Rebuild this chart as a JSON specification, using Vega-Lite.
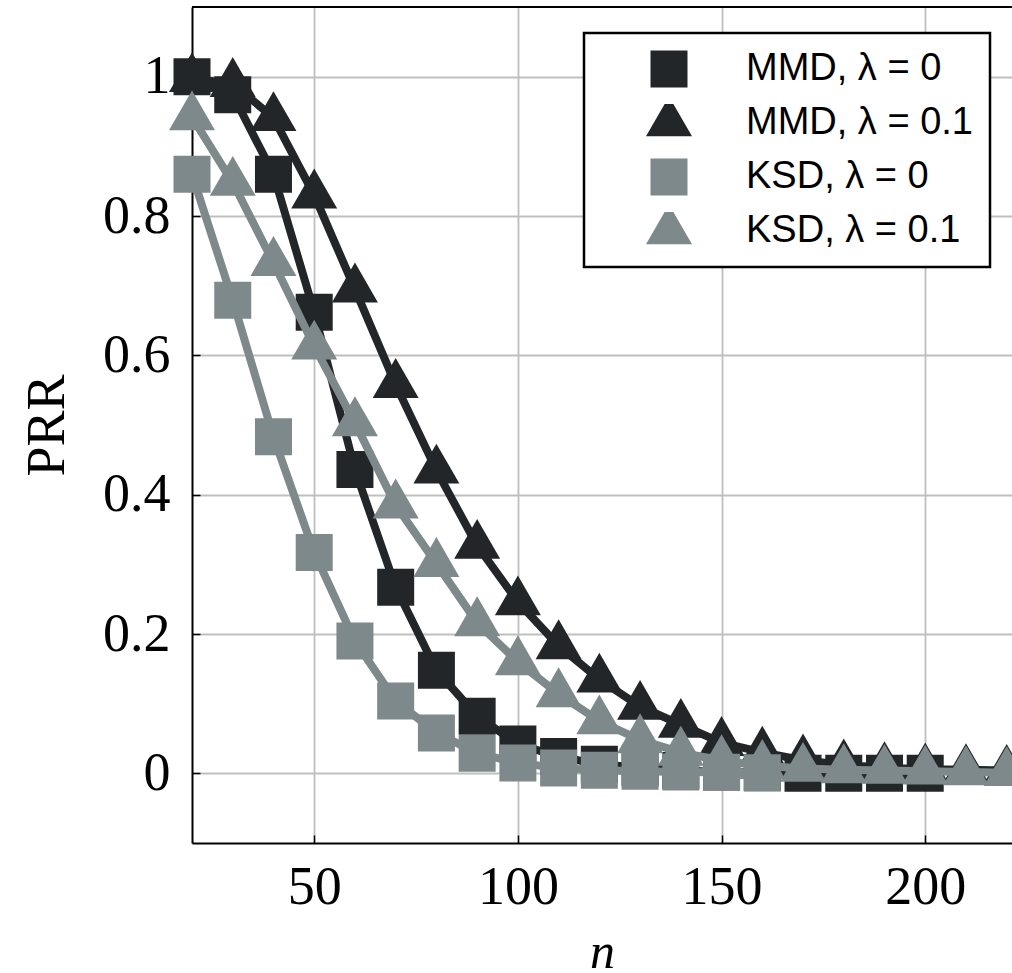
{
  "$schema": "https://vega.github.io/schema/vega-lite/v6.json",
  "width": 820,
  "height": 836,
  "autosize": {"type": "none"},
  "padding": {"left": 192, "top": 7, "right": 0, "bottom": 130},
  "background": "white",
  "config": {
    "view": {"stroke": null},
    "legend": {
      "strokeColor": "black",
      "fillColor": "white",
      "cornerRadius": 0
    },
    "axis": {
      "labelFont": "Liberation Serif",
      "labelFontSize": 54,
      "labelColor": "black",
      "titleFont": "Liberation Serif",
      "titleFontWeight": "normal",
      "titleColor": "black",
      "gridColor": "#bfbfbf",
      "gridWidth": 1.8,
      "domainColor": "black",
      "domainWidth": 2,
      "tickColor": "black",
      "tickWidth": 1.5,
      "tickSize": -8
    }
  },
  "layer": [
    {
      "data": {"values": [
        {"series": "MMD, λ = 0", "n": 20, "PRR": 1.0},
        {"series": "MMD, λ = 0", "n": 30, "PRR": 0.974},
        {"series": "MMD, λ = 0", "n": 40, "PRR": 0.86},
        {"series": "MMD, λ = 0", "n": 50, "PRR": 0.662},
        {"series": "MMD, λ = 0", "n": 60, "PRR": 0.436},
        {"series": "MMD, λ = 0", "n": 70, "PRR": 0.267},
        {"series": "MMD, λ = 0", "n": 80, "PRR": 0.148},
        {"series": "MMD, λ = 0", "n": 90, "PRR": 0.082},
        {"series": "MMD, λ = 0", "n": 100, "PRR": 0.042},
        {"series": "MMD, λ = 0", "n": 110, "PRR": 0.024},
        {"series": "MMD, λ = 0", "n": 120, "PRR": 0.013},
        {"series": "MMD, λ = 0", "n": 130, "PRR": 0.008},
        {"series": "MMD, λ = 0", "n": 140, "PRR": 0.004},
        {"series": "MMD, λ = 0", "n": 150, "PRR": 0.002},
        {"series": "MMD, λ = 0", "n": 160, "PRR": 0.001},
        {"series": "MMD, λ = 0", "n": 170, "PRR": 0.0},
        {"series": "MMD, λ = 0", "n": 180, "PRR": 0.0},
        {"series": "MMD, λ = 0", "n": 190, "PRR": 0.0},
        {"series": "MMD, λ = 0", "n": 200, "PRR": 0.0},
        {"series": "MMD, λ = 0.1", "n": 20, "PRR": 0.997},
        {"series": "MMD, λ = 0.1", "n": 30, "PRR": 0.99},
        {"series": "MMD, λ = 0.1", "n": 40, "PRR": 0.941},
        {"series": "MMD, λ = 0.1", "n": 50, "PRR": 0.83},
        {"series": "MMD, λ = 0.1", "n": 60, "PRR": 0.695},
        {"series": "MMD, λ = 0.1", "n": 70, "PRR": 0.558},
        {"series": "MMD, λ = 0.1", "n": 80, "PRR": 0.435},
        {"series": "MMD, λ = 0.1", "n": 90, "PRR": 0.327},
        {"series": "MMD, λ = 0.1", "n": 100, "PRR": 0.246},
        {"series": "MMD, λ = 0.1", "n": 110, "PRR": 0.183},
        {"series": "MMD, λ = 0.1", "n": 120, "PRR": 0.135},
        {"series": "MMD, λ = 0.1", "n": 130, "PRR": 0.096},
        {"series": "MMD, λ = 0.1", "n": 140, "PRR": 0.07},
        {"series": "MMD, λ = 0.1", "n": 150, "PRR": 0.044},
        {"series": "MMD, λ = 0.1", "n": 160, "PRR": 0.03},
        {"series": "MMD, λ = 0.1", "n": 170, "PRR": 0.019},
        {"series": "MMD, λ = 0.1", "n": 180, "PRR": 0.012},
        {"series": "MMD, λ = 0.1", "n": 190, "PRR": 0.008},
        {"series": "MMD, λ = 0.1", "n": 200, "PRR": 0.006},
        {"series": "MMD, λ = 0.1", "n": 210, "PRR": 0.005},
        {"series": "MMD, λ = 0.1", "n": 220, "PRR": 0.004},
        {"series": "KSD, λ = 0", "n": 20, "PRR": 0.86},
        {"series": "KSD, λ = 0", "n": 30, "PRR": 0.679},
        {"series": "KSD, λ = 0", "n": 40, "PRR": 0.483},
        {"series": "KSD, λ = 0", "n": 50, "PRR": 0.317},
        {"series": "KSD, λ = 0", "n": 60, "PRR": 0.19},
        {"series": "KSD, λ = 0", "n": 70, "PRR": 0.104},
        {"series": "KSD, λ = 0", "n": 80, "PRR": 0.058},
        {"series": "KSD, λ = 0", "n": 90, "PRR": 0.029},
        {"series": "KSD, λ = 0", "n": 100, "PRR": 0.015},
        {"series": "KSD, λ = 0", "n": 110, "PRR": 0.0075},
        {"series": "KSD, λ = 0", "n": 120, "PRR": 0.0045},
        {"series": "KSD, λ = 0", "n": 130, "PRR": 0.003},
        {"series": "KSD, λ = 0", "n": 140, "PRR": 0.002},
        {"series": "KSD, λ = 0", "n": 150, "PRR": 0.0015},
        {"series": "KSD, λ = 0", "n": 160, "PRR": 0.001},
        {"series": "KSD, λ = 0.1", "n": 20, "PRR": 0.942},
        {"series": "KSD, λ = 0.1", "n": 30, "PRR": 0.848},
        {"series": "KSD, λ = 0.1", "n": 40, "PRR": 0.733},
        {"series": "KSD, λ = 0.1", "n": 50, "PRR": 0.613},
        {"series": "KSD, λ = 0.1", "n": 60, "PRR": 0.503},
        {"series": "KSD, λ = 0.1", "n": 70, "PRR": 0.385},
        {"series": "KSD, λ = 0.1", "n": 80, "PRR": 0.301},
        {"series": "KSD, λ = 0.1", "n": 90, "PRR": 0.216},
        {"series": "KSD, λ = 0.1", "n": 100, "PRR": 0.16},
        {"series": "KSD, λ = 0.1", "n": 110, "PRR": 0.114},
        {"series": "KSD, λ = 0.1", "n": 120, "PRR": 0.075},
        {"series": "KSD, λ = 0.1", "n": 130, "PRR": 0.048},
        {"series": "KSD, λ = 0.1", "n": 140, "PRR": 0.03},
        {"series": "KSD, λ = 0.1", "n": 150, "PRR": 0.018},
        {"series": "KSD, λ = 0.1", "n": 160, "PRR": 0.011},
        {"series": "KSD, λ = 0.1", "n": 170, "PRR": 0.007},
        {"series": "KSD, λ = 0.1", "n": 180, "PRR": 0.005},
        {"series": "KSD, λ = 0.1", "n": 190, "PRR": 0.004},
        {"series": "KSD, λ = 0.1", "n": 200, "PRR": 0.003},
        {"series": "KSD, λ = 0.1", "n": 210, "PRR": 0.002},
        {"series": "KSD, λ = 0.1", "n": 220, "PRR": 0.001}
      ]},
      "encoding": {
        "x": {
          "field": "n", "type": "quantitative",
          "scale": {"domain": [20, 221.3], "nice": false, "zero": false},
          "axis": {
            "values": [50, 100, 150, 200],
            "title": "n",
            "titleFontStyle": "italic",
            "titleFontSize": 50,
            "titlePadding": 13,
            "labelPadding": 25
          }
        },
        "y": {
          "field": "PRR", "type": "quantitative",
          "scale": {"domain": [-0.1, 1.1], "nice": false, "zero": false},
          "axis": {
            "values": [0, 0.2, 0.4, 0.6, 0.8, 1],
            "format": ".1~f",
            "title": "PRR",
            "titleFontSize": 54,
            "titlePadding": 28,
            "labelPadding": 30
          }
        },
        "color": {
          "field": "series", "type": "nominal",
          "scale": {
            "domain": ["MMD, λ = 0", "MMD, λ = 0.1", "KSD, λ = 0", "KSD, λ = 0.1"],
            "range": ["#232628", "#232628", "#7e898b", "#7e898b"]
          },
          "legend": {
            "orient": "none",
            "legendX": 392,
            "legendY": 26,
            "title": null,
            "padding": 17,
            "symbolSize": 1369,
            "symbolOffset": 49,
            "labelOffset": 58,
            "labelFont": "Liberation Sans",
            "labelFontSize": 38,
            "labelColor": "black",
            "labelLimit": 400,
            "rowPadding": 16,
            "clipHeight": 38,
            "encode": {
              "legend": {
                "update": {
                  "stroke": {"value": "black"},
                  "strokeWidth": {"value": 2.5},
                  "fill": {"value": "white"}
                }
              },
              "symbols": {
                "update": {
                  "shape": {"signal": "indexof(datum.value, '0.1') >= 0 ? 'M-3.54,-0.22L-0.702,-0.22L0,-1.436L0.702,-0.22L3.54,-0.22L3.54,0.22L0.956,0.22L1.243,0.718L-1.243,0.718L-0.956,0.22L-3.54,0.22Z' : 'M-3.54,-0.22L-1,-0.22L-1,-1L1,-1L1,-0.22L3.54,-0.22L3.54,0.22L1,0.22L1,1L-1,1L-1,0.22L-3.54,0.22Z'"},
                  "fill": {"signal": "indexof(datum.value, 'MMD') >= 0 ? '#232628' : '#7e898b'"},
                  "stroke": {"value": "transparent"},
                  "strokeWidth": {"value": 0},
                  "opacity": {"value": 1},
                  "fillOpacity": {"value": 1}
                }
              }
            }
          }
        }
      },
      "layer": [
        {
          "transform": [{"filter": "datum.series === 'MMD, λ = 0'"}],
          "layer": [
            {"mark": {"type": "line", "strokeWidth": 8}},
            {"mark": {"type": "point", "filled": true, "size": 1369, "opacity": 1, "strokeWidth": 0},
             "encoding": {"shape": {"field": "series", "type": "nominal", "legend": null, "scale": {"domain": ["MMD, λ = 0", "MMD, λ = 0.1", "KSD, λ = 0", "KSD, λ = 0.1"], "range": ["M-1,-1L1,-1L1,1L-1,1Z", "M0,-1.436L1.243,0.718L-1.243,0.718Z", "M-1,-1L1,-1L1,1L-1,1Z", "M0,-1.436L1.243,0.718L-1.243,0.718Z"]}}}}
          ]
        },
        {
          "transform": [{"filter": "datum.series === 'MMD, λ = 0.1'"}],
          "layer": [
            {"mark": {"type": "line", "strokeWidth": 8}},
            {"mark": {"type": "point", "filled": true, "size": 1369, "opacity": 1, "strokeWidth": 0},
             "encoding": {"shape": {"field": "series", "type": "nominal", "legend": null}}}
          ]
        },
        {
          "transform": [{"filter": "datum.series === 'KSD, λ = 0'"}],
          "layer": [
            {"mark": {"type": "line", "strokeWidth": 8}},
            {"mark": {"type": "point", "filled": true, "size": 1369, "opacity": 1, "strokeWidth": 0},
             "encoding": {"shape": {"field": "series", "type": "nominal", "legend": null}}}
          ]
        },
        {
          "transform": [{"filter": "datum.series === 'KSD, λ = 0.1'"}],
          "layer": [
            {"mark": {"type": "line", "strokeWidth": 8}},
            {"mark": {"type": "point", "filled": true, "size": 1369, "opacity": 1, "strokeWidth": 0},
             "encoding": {"shape": {"field": "series", "type": "nominal", "legend": null}}}
          ]
        }
      ]
    },
    {
      "data": {"values": [{"edge": "top"}]},
      "mark": {"type": "rule", "color": "black", "strokeWidth": 2},
      "encoding": {"y": {"datum": 1.1}}
    }
  ]
}
